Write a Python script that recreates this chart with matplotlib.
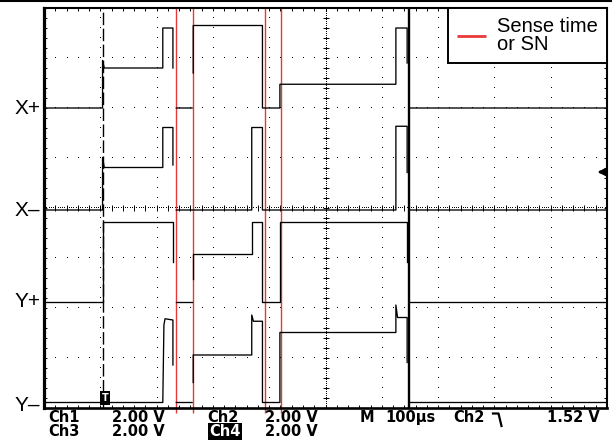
import matplotlib.pyplot as plt
import numpy as np
from matplotlib.ticker import MultipleLocator
from matplotlib.lines import Line2D

nan = np.nan

# time in us (100 us/div), level in volts (2 V/div); nan = gap in a sampled edge
xp_t = [0, 104, 104, 107, 211, 211, 229, 229, nan, 235, 263, nan, 265, 265, 388, 388, 419, 419, 625, 625, 645, 645, nan, 648, 1000]
xp_v = [0, 0, 1.9, 1.6, 1.6, 3.2, 3.2, 1.6, nan, 0, 0, nan, 1.4, 3.3, 3.3, 0, 0, 0.95, 0.95, 3.2, 3.2, 1.8, nan, 0, 0]

xm_t = [0, 104, 104, 107, 211, 211, 229, 229, nan, 235, 369, 369, 388, 388, 625, 625, 645, 645, nan, 648, 1000]
xm_v = [0, 0, 2.1, 1.7, 1.7, 3.3, 3.3, 1.8, nan, 0, 0, 3.3, 3.3, 0, 0, 3.35, 3.35, 1.5, nan, 0, 0]

yp_t = [0, 104, 104, 229, 229, nan, 235, 263, nan, 265, 265, 369, 369, 388, 388, 419, 419, 645, 645, nan, 648, 1000]
yp_v = [0, 0, 3.2, 3.2, 1.6, nan, 0, 0, nan, 0.9, 1.9, 1.9, 3.2, 3.2, 0, 0, 3.2, 3.2, 1.6, nan, 0, 0]

ym_t = [0, 211, 213, 215, 229, 229, nan, 235, 263, nan, 265, 265, 369, 369, 372, 388, 388, 419, 419, 625, 625, 628, 645, 645, nan, 648, 1000]
ym_v = [0, 0, 3.1, 3.35, 3.3, 1.5, nan, 0, 0, nan, 0.8, 1.9, 1.9, 3.5, 3.25, 3.25, 0, 0, 2.8, 2.8, 3.9, 3.4, 3.4, 1.6, nan, 0, 0]

channels = ["X+", "X\u2013", "Y+", "Y\u2013"]
positions = [2.0, -0.04, -1.87, -3.89]   # baseline of each trace, in divisions
label_shift = [0, 0, 0, -0.06]
volts_per_div = 2.0

sense_t = [233.6, 263.8, 391.7, 421.0]
trigger_t = 104
cursor_t = 648
trig_level = 1.52   # Ch2

red = '#e8393a'

fig = plt.figure(figsize=(6.12, 4.41), dpi=100)
ax = fig.add_axes([44/612, 1-408/441, 563/612, 400/441])
ax.set_xlim(0, 1000)
ax.set_ylim(-4, 4)

# graticule: dotted major lines, denser centre cross with small ticks
minor_t = np.arange(0, 1001, 20)
minor_y = np.arange(-4, 4.001, 0.2)
for t in range(100, 1000, 100):
    if t != 500:
        ax.plot(np.full(len(minor_y), t), minor_y, ls='none', marker=',', color='k')
for yy in range(-3, 4):
    if yy != 0:
        ax.plot(minor_t, np.full(len(minor_t), yy), ls='none', marker=',', color='k')
fine_y = np.arange(-4, 4.001, 0.04)
fine_t = np.arange(0, 1001, 4)
ax.plot(np.full(len(fine_y), 500), fine_y, ls='none', marker=',', color='k')
ax.plot(fine_t, np.zeros(len(fine_t)), ls='none', marker=',', color='k')
ax.plot(np.full(len(minor_y), 500), minor_y, ls='none', marker='_', ms=4, mew=0.7, color='k')
ax.plot(minor_t, np.zeros(len(minor_t)), ls='none', marker='|', ms=4, mew=0.7, color='k')

ax.xaxis.set_major_locator(MultipleLocator(100))
ax.xaxis.set_minor_locator(MultipleLocator(20))
ax.yaxis.set_major_locator(MultipleLocator(1))
ax.yaxis.set_minor_locator(MultipleLocator(0.2))
ax.tick_params(which='both', direction='in', length=2.5, width=0.7, top=True, right=True,
               labelbottom=False, labelleft=False)
ax.spines['left'].set_linewidth(2.3)
ax.spines['bottom'].set_linewidth(1.9)
ax.spines['top'].set_linewidth(1.5)
ax.spines['right'].set_linewidth(1.5)

# markers
ax.axvline(trigger_t, color='k', lw=1.0, ls=(0, (9, 2.5)))
ax.axvline(cursor_t, color='k', lw=1.7)
ax.vlines(sense_t, -4.1, 4, colors=red, lw=1.0, clip_on=False, label="Sense time\nor SN")

# traces
traces = [(xp_t, xp_v), (xm_t, xm_v), (yp_t, yp_v), (ym_t, ym_v)]
for (t, v), pos, name, sh in zip(traces, positions, channels, label_shift):
    ax.plot(t, pos + np.array(v) / volts_per_div, color='k', lw=0.95)
    ax.text(-0.006, pos + sh, name, transform=ax.get_yaxis_transform(), ha='right', va='center',
            fontsize=15, family='Liberation Sans')

# Ch2 trigger level arrow and trigger position mark
lvl = positions[1] + trig_level / volts_per_div
ax.annotate('', xy=(978, lvl), xytext=(997, lvl),
            arrowprops=dict(arrowstyle='-|>', color='k', lw=1.8, mutation_scale=11))
ax.text(trigger_t + 5, positions[3] + 0.09, 'T', color='white', fontsize=7, fontweight='bold',
        ha='center', va='center', bbox=dict(facecolor='k', edgecolor='none', pad=1.2))

leg = ax.legend(loc='upper right', borderaxespad=0, fancybox=False, framealpha=1,
                edgecolor='k', handlelength=1.45, handletextpad=0.55, borderpad=0.45,
                prop={'family': 'Liberation Sans', 'size': 14.5})
leg.get_frame().set_linewidth(1.4)
leg.get_lines()[0].set_linewidth(2)
for txt in leg.get_texts():
    txt.set_linespacing(0.95)

# top rule
fig.add_artist(Line2D([0, 1], [1 - 1/441, 1 - 1/441], color='k', lw=1.5, transform=fig.transFigure))

# status line at the bottom
def px(x, y):
    return x / 612, 1 - y / 441

status = [
    (48, 422, "Ch1"), (112, 422, "2.00 V"), (207, 422, "Ch2"), (265, 422, "2.00 V"),
    (360, 422, "M"), (385, 422, "100\u00b5s"), (453, 422, "Ch2"), (547, 422, "1.52 V"),
    (48, 436, "Ch3"), (112, 436, "2.00 V"), (265, 436, "2.00 V"),
]
for x, y, s in status:
    fig.text(*px(x, y), s, fontsize=10.5, fontweight='bold', family='DejaVu Sans', va='baseline')
fig.text(*px(209, 436), "Ch4", fontsize=10.5, fontweight='bold', family='DejaVu Sans', va='baseline',
         color='white', bbox=dict(facecolor='k', edgecolor='none', pad=1.0))
# falling-edge slope symbol
sx, sy = zip(px(493, 413.5), px(498.5, 413.5), px(501.5, 426))
fig.add_artist(Line2D(sx, sy, color='k', lw=1.6, transform=fig.transFigure))

fig.savefig('out.png', dpi=100)
